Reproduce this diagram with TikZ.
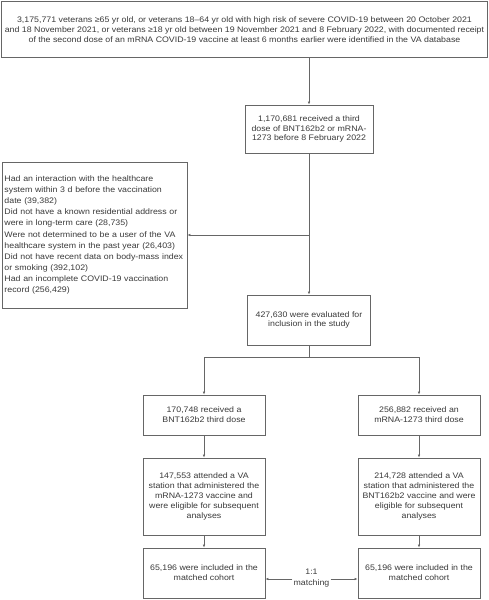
\documentclass[tikz,border=0pt]{standalone}
\usepackage{fontspec}
\setmainfont[FakeStretch=1.1]{Liberation Sans}
\usetikzlibrary{arrows.meta}
\definecolor{ln}{HTML}{666666}
\definecolor{tx}{HTML}{3A3A3A}
\begin{document}
\begin{tikzpicture}[x=1pt,y=-1pt,
  box/.style={draw=ln, line width=0.8pt, text=tx, fill=white,
    font=\fontsize{8}{9.8}\selectfont, align=center, inner sep=0pt},
  lbl/.style={text=tx, font=\fontsize{8}{10.5}\selectfont, align=center, inner sep=1pt},
  arr/.style={draw=ln, line width=0.8pt, -{Latex[length=3pt,width=2.6pt]}},
  ln/.style={draw=ln, line width=0.8pt}]
\useasboundingbox (0,0) rectangle (489,600);
\node[box, minimum width=486, minimum height=56] (top) at (244.5,29.5)
  {3,175,771 veterans ≥65 yr old, or veterans 18–64 yr old with high risk of severe COVID-19 between 20 October 2021\\
   and 18 November 2021, or veterans ≥18 yr old between 19 November 2021 and 8 February 2022, with documented receipt\\
   of the second dose of an mRNA COVID-19 vaccine at least 6 months earlier were identified in the VA database};
\node[box, minimum width=128, minimum height=48] (b2) at (309,129)
  {1,170,681 received a third\\dose of BNT162b2 or mRNA-\\1273 before 8 February 2022};
\node[box, minimum width=185, minimum height=146, text width=180, align=left,
  font=\fontsize{8}{11.1}\selectfont] (excl) at (94.5,235)
  {Had an interaction with the healthcare\\
   system within 3 d before the vaccination\\
   date (39,382)\\
   Did not have a known residential address or\\
   were in long-term care (28,735)\\
   Were not determined to be a user of the VA\\
   healthcare system in the past year (26,403)\\
   Did not have recent data on body-mass index\\
   or smoking (392,102)\\
   Had an incomplete COVID-19 vaccination\\
   record (256,429)};
\node[box, minimum width=123, minimum height=50] (b3) at (309,320)
  {427,630 were evaluated for\\inclusion in the study};
\node[box, minimum width=122, minimum height=40] (bnt) at (204,415)
  {170,748 received a\\BNT162b2 third dose};
\node[box, minimum width=122, minimum height=40] (mrna) at (419,415)
  {256,882 received an\\mRNA-1273 third dose};
\node[box, minimum width=122, minimum height=77] (bnt2) at (204,496.5)
  {147,553 attended a VA\\station that administered the\\mRNA-1273 vaccine and\\were eligible for subsequent\\analyses};
\node[box, minimum width=122, minimum height=77] (mrna2) at (419,496.5)
  {214,728 attended a VA\\station that administered the\\BNT162b2 vaccine and were\\eligible for subsequent\\analyses};
\node[box, minimum width=122, minimum height=50] (bnt3) at (204,573)
  {65,196 were included in the\\matched cohort};
\node[box, minimum width=122, minimum height=50] (mrna3) at (419,573)
  {65,196 were included in the\\matched cohort};
\node[lbl] (match) at (311.5,578) {1:1\\matching};
\coordinate (j) at (309,357);
\draw[arr] (top.south -| b2.north) -- (b2.north);
\draw[arr] (b2.south) -- (b3.north);
\draw[arr] (b2.south |- excl.east) -- (excl.east);
\draw[ln] (b3.south) -- (j);
\draw[arr] (j) -| (bnt.north);
\draw[arr] (j) -| (mrna.north);
\draw[arr] (bnt.south) -- (bnt2.north);
\draw[arr] (bnt2.south) -- (bnt3.north);
\draw[arr] (mrna.south) -- (mrna2.north);
\draw[arr] (mrna2.south) -- (mrna3.north);
\draw[arr] (match.west |- 0,579) -- (bnt3.east |- 0,579);
\draw[arr] (match.east |- 0,579) -- (mrna3.west |- 0,579);
\end{tikzpicture}
\end{document}
